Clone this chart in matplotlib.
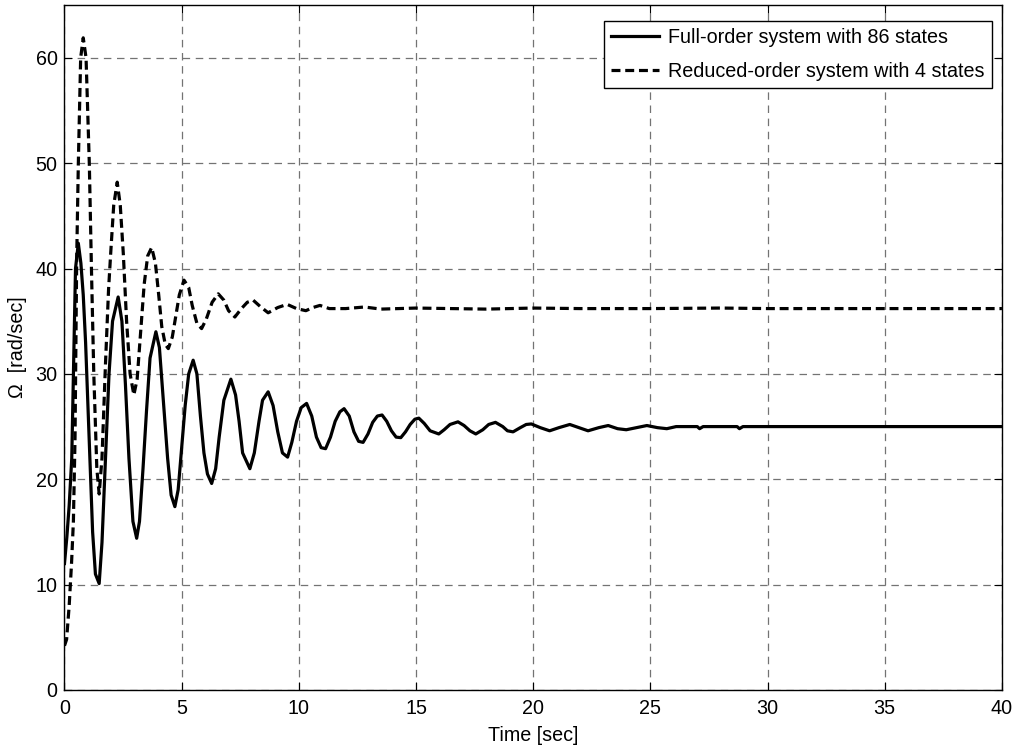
import numpy as np
import matplotlib
matplotlib.use("Agg")
import matplotlib.pyplot as plt

plt.rcParams['font.family'] = ['Liberation Sans', 'DejaVu Sans']

# full-order response (86 states)
t_full = [0.0, 0.1, 0.2, 0.31, 0.4, 0.47, 0.59, 0.7, 0.8, 0.9, 1.05, 1.2, 1.32, 1.48,
          1.6, 1.75, 1.9, 2.05, 2.29, 2.45, 2.6, 2.75, 2.92, 3.08,
          3.2, 3.35, 3.5, 3.65, 3.9, 4.05, 4.2, 4.4, 4.55, 4.71,
          4.85, 5.0, 5.15, 5.3, 5.49, 5.65, 5.8, 5.95, 6.1, 6.28,
          6.45, 6.6, 6.8, 7.1, 7.3, 7.45, 7.6, 7.91,
          8.1, 8.3, 8.45, 8.69, 8.9, 9.1, 9.3, 9.52,
          9.7, 9.9, 10.1, 10.33, 10.55, 10.75, 10.95, 11.14,
          11.35, 11.55, 11.75, 11.93, 12.15, 12.35, 12.55, 12.74,
          12.95, 13.15, 13.35, 13.55, 13.75, 13.95, 14.15, 14.35,
          14.55, 14.75, 14.95, 15.12, 15.35, 15.6, 15.97,
          16.2, 16.45, 16.79, 17.05, 17.3, 17.55, 17.85, 18.1, 18.39,
          18.7, 18.9, 19.14, 19.45, 19.7, 19.92, 20.3, 20.7, 21.1, 21.56,
          21.95, 22.34, 22.8, 23.2, 23.6, 23.97, 24.4, 24.85, 25.3, 25.7,
          26.1, 27.0, 27.1, 27.25, 28.7, 28.8, 28.95, 40.0]
w_full = [12.0, 14.5, 17.5, 22.0, 32.0, 40.0, 42.4, 40.5, 37.5, 33.0, 24.0, 15.0, 11.0, 10.1,
          14.0, 22.0, 30.0, 35.0, 37.3, 35.0, 29.0, 22.0, 16.0, 14.4,
          16.0, 21.0, 26.5, 31.5, 34.0, 32.5, 28.0, 22.0, 18.5, 17.4,
          19.0, 23.0, 27.0, 30.0, 31.3, 30.0, 26.0, 22.5, 20.5, 19.6,
          21.0, 24.0, 27.5, 29.5, 28.0, 25.5, 22.5, 21.0,
          22.5, 25.5, 27.5, 28.3, 27.0, 24.5, 22.5, 22.1,
          23.5, 25.5, 26.8, 27.2, 26.0, 24.0, 23.0, 22.9,
          24.0, 25.5, 26.4, 26.7, 26.0, 24.5, 23.6, 23.5,
          24.3, 25.4, 26.0, 26.1, 25.5, 24.6, 24.0, 23.95,
          24.5, 25.2, 25.7, 25.8, 25.3, 24.6, 24.3,
          24.7, 25.2, 25.45, 25.1, 24.6, 24.3, 24.7, 25.2, 25.4,
          25.0, 24.6, 24.5, 24.9, 25.2, 25.25, 24.9, 24.6, 24.9, 25.2,
          24.9, 24.6, 24.9, 25.1, 24.8, 24.7, 24.9, 25.1, 24.9, 24.8,
          25.0, 25.0, 24.8, 25.0, 25.0, 24.8, 25.0, 25.0]

# reduced-order response (4 states)
t_red = [0.0, 0.09, 0.2, 0.3, 0.38, 0.45, 0.52, 0.59, 0.69, 0.8, 0.92, 1.06, 1.15, 1.25, 1.38, 1.48,
         1.6, 1.75, 1.88, 1.97, 2.1, 2.25, 2.38, 2.51, 2.65, 2.8, 2.96,
         3.1, 3.25, 3.4, 3.55, 3.72, 3.88, 4.02, 4.15, 4.3, 4.43,
         4.6, 4.75, 4.9, 5.1, 5.3, 5.45, 5.65, 5.85,
         6.05, 6.3, 6.56, 6.8, 7.0, 7.27, 7.55, 7.8, 8.05, 8.35, 8.69,
         9.1, 9.5, 9.9, 10.3, 10.6, 10.9, 11.3, 12.0, 12.8, 13.5,
         15.0, 16.5, 18.0, 20.0, 22.0, 25.0, 28.0, 30.0, 35.0, 40.0]
w_red = [4.2, 4.8, 8.0, 12.0, 16.0, 24.0, 40.8, 49.9, 60.0, 61.9, 60.0, 49.9, 40.0, 30.0, 21.0, 18.6,
         22.0, 31.0, 38.0, 41.4, 46.0, 48.2, 46.0, 41.4, 35.0, 30.0, 28.0,
         29.5, 34.0, 38.5, 41.2, 42.0, 40.5, 37.5, 34.5, 32.8, 32.4,
         33.5, 35.5, 37.5, 38.9, 38.2, 36.5, 34.8, 34.3,
         35.2, 36.8, 37.6, 37.0, 36.0, 35.4, 36.2, 36.8, 37.0, 36.4, 35.8,
         36.3, 36.6, 36.2, 36.0, 36.3, 36.5, 36.2, 36.2, 36.35, 36.15,
         36.25, 36.2, 36.15, 36.25, 36.2, 36.2, 36.25, 36.2, 36.2, 36.2]

fs = 14.2

fig = plt.figure(figsize=(10.14, 7.46), dpi=100)
ax = fig.add_axes([0.0636, 0.0751, 0.9245, 0.918])

ax.plot(t_full, w_full, color='black', lw=2.3, solid_joinstyle='round',
        label='Full-order system with 86 states')
ax.plot(t_red, w_red, color='black', lw=2.3, linestyle=(0, (2.8, 1.5)),
        label='Reduced-order system with 4 states')

ax.set_xlim(0, 40)
ax.set_ylim(0, 65)
ax.set_xticks(np.arange(0, 41, 5))
ax.set_yticks(np.arange(0, 61, 10))
ax.grid(True, color='0.45', lw=0.9, linestyle=(0, (6, 4.5)))
ax.tick_params(axis='x', pad=6.5)
ax.tick_params(direction='in', top=True, right=True, length=6, width=0.8,
               labelsize=fs)
ax.tick_params(axis='y', pad=5)
for s in ax.spines.values():
    s.set_linewidth(1.0)

ax.set_xlabel('Time [sec]', fontsize=fs, labelpad=6)
ax.set_ylabel('\u03a9  [rad/sec]', fontsize=fs, labelpad=6)

leg = ax.legend(loc='upper right', bbox_to_anchor=(0.9893, 0.9766), borderaxespad=0,
                fontsize=fs, fancybox=False, framealpha=1, edgecolor='black',
                handlelength=2.4, handletextpad=0.5, borderpad=0.35, labelspacing=0.75)
leg.get_frame().set_linewidth(1.0)

fig.savefig('out.png', dpi=100)
